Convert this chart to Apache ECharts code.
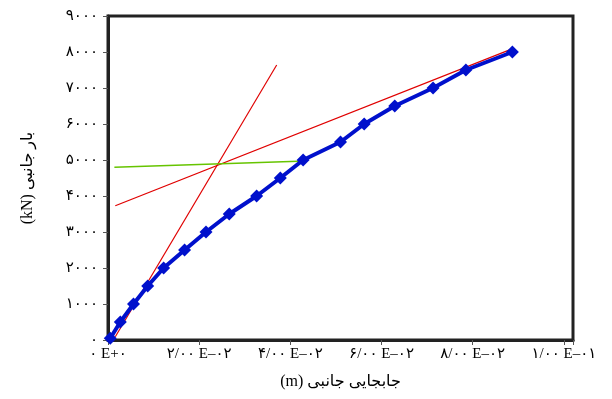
<!DOCTYPE html>
<html>
<head>
<meta charset="utf-8">
<script src="https://cdn.jsdelivr.net/npm/echarts@6/dist/echarts.min.js"></script>
<style>
  html, body { margin: 0; padding: 0; background: #fff; }
  #main { width: 612px; height: 399px; }
</style>
</head>
<body>
<div id="main"></div>
<script>
// جابجایی (m) و بار (kN) منحنی اصلی
let disp = [0.0005, 0.0027, 0.0056, 0.0087, 0.0122, 0.0168, 0.0215, 0.0266, 0.0326, 0.0378, 0.0428, 0.0510, 0.0562, 0.0629, 0.0713, 0.0785, 0.0887]
let load = [50, 500, 1000, 1500, 2000, 2500, 3000, 3500, 4000, 4500, 5000, 5500, 6000, 6500, 7000, 7500, 8000]

// خطوط کمکی (دو سر هر خط)
let redSteep = [[0.0016, 90], [0.0370, 7640]]
let redFlat = [[0.0016, 3730], [0.0885, 8080]]
let greenLine = [[0.0014, 4800], [0.0434, 4975]]

// برچسب محورها
let xTicks = [0, 0.02, 0.04, 0.06, 0.08, 0.1]
let xTickLabels = ['۰ E+۰', '۲/۰۰ E–۰۲', '۴/۰۰ E–۰۲', '۶/۰۰ E–۰۲', '۸/۰۰ E–۰۲', '۱/۰۰ E–۰۱']
let yTickLabels = ['۰', '۱۰۰۰', '۲۰۰۰', '۳۰۰۰', '۴۰۰۰', '۵۰۰۰', '۶۰۰۰', '۷۰۰۰', '۸۰۰۰', '۹۰۰۰']

let font = "'Liberation Serif', 'DejaVu Sans', serif"

let chart = echarts.init(document.getElementById('main'))

let mainData = disp.map((d, i) => [d, load[i]])

let option = {
  backgroundColor: '#fff',
  animation: false,
  grid: {
    left: 108,
    right: 39,
    top: 16,
    bottom: 59,
    show: true,
    borderColor: '#222',
    borderWidth: 3
  },
  xAxis: {
    type: 'value',
    min: 0,
    max: 0.102,
    interval: 0.02,
    name: '(m) جابجایی جانبی',
    nameLocation: 'middle',
    nameGap: 34,
    nameTextStyle: { color: '#000', fontSize: 16, fontFamily: font },
    axisLine: { show: true, lineStyle: { color: '#222', width: 3 } },
    axisTick: { show: true, length: 5, lineStyle: { color: '#555' } },
    splitLine: { show: false },
    axisLabel: {
      color: '#000',
      fontSize: 15,
      fontFamily: font,
      margin: 7,
      formatter: function (v) {
        for (let i = 0; i < xTicks.length; i++) {
          if (Math.abs(v - xTicks[i]) < 1e-6) return xTickLabels[i]
        }
        return ''
      }
    }
  },
  yAxis: {
    type: 'value',
    min: 0,
    max: 9000,
    interval: 1000,
    name: '(kN) بار جانبی',
    nameLocation: 'middle',
    nameGap: 72,
    nameRotate: 90,
    nameTextStyle: { color: '#000', fontSize: 16, fontFamily: font },
    axisLine: { show: true, lineStyle: { color: '#222', width: 3 } },
    axisTick: { show: true, length: 5, lineStyle: { color: '#555' } },
    splitLine: { show: false },
    axisLabel: {
      color: '#000',
      fontSize: 15,
      fontFamily: font,
      margin: 10,
      formatter: function (v) {
        return yTickLabels[Math.round(v / 1000)]
      }
    }
  },
  series: [
    {
      type: 'line',
      data: redSteep,
      symbol: 'none',
      lineStyle: { color: '#e00000', width: 1.2 },
      z: 2
    },
    {
      type: 'line',
      data: redFlat,
      symbol: 'none',
      lineStyle: { color: '#e00000', width: 1.2 },
      z: 2
    },
    {
      type: 'line',
      data: greenLine,
      symbol: 'none',
      lineStyle: { color: '#66c400', width: 1.5 },
      z: 2
    },
    {
      type: 'line',
      data: mainData,
      symbol: 'diamond',
      symbolSize: 13,
      showAllSymbol: true,
      itemStyle: { color: '#0010cc' },
      lineStyle: { color: '#0010cc', width: 4 },
      z: 3
    }
  ]
}

chart.setOption(option)
</script>
</body>
</html>
